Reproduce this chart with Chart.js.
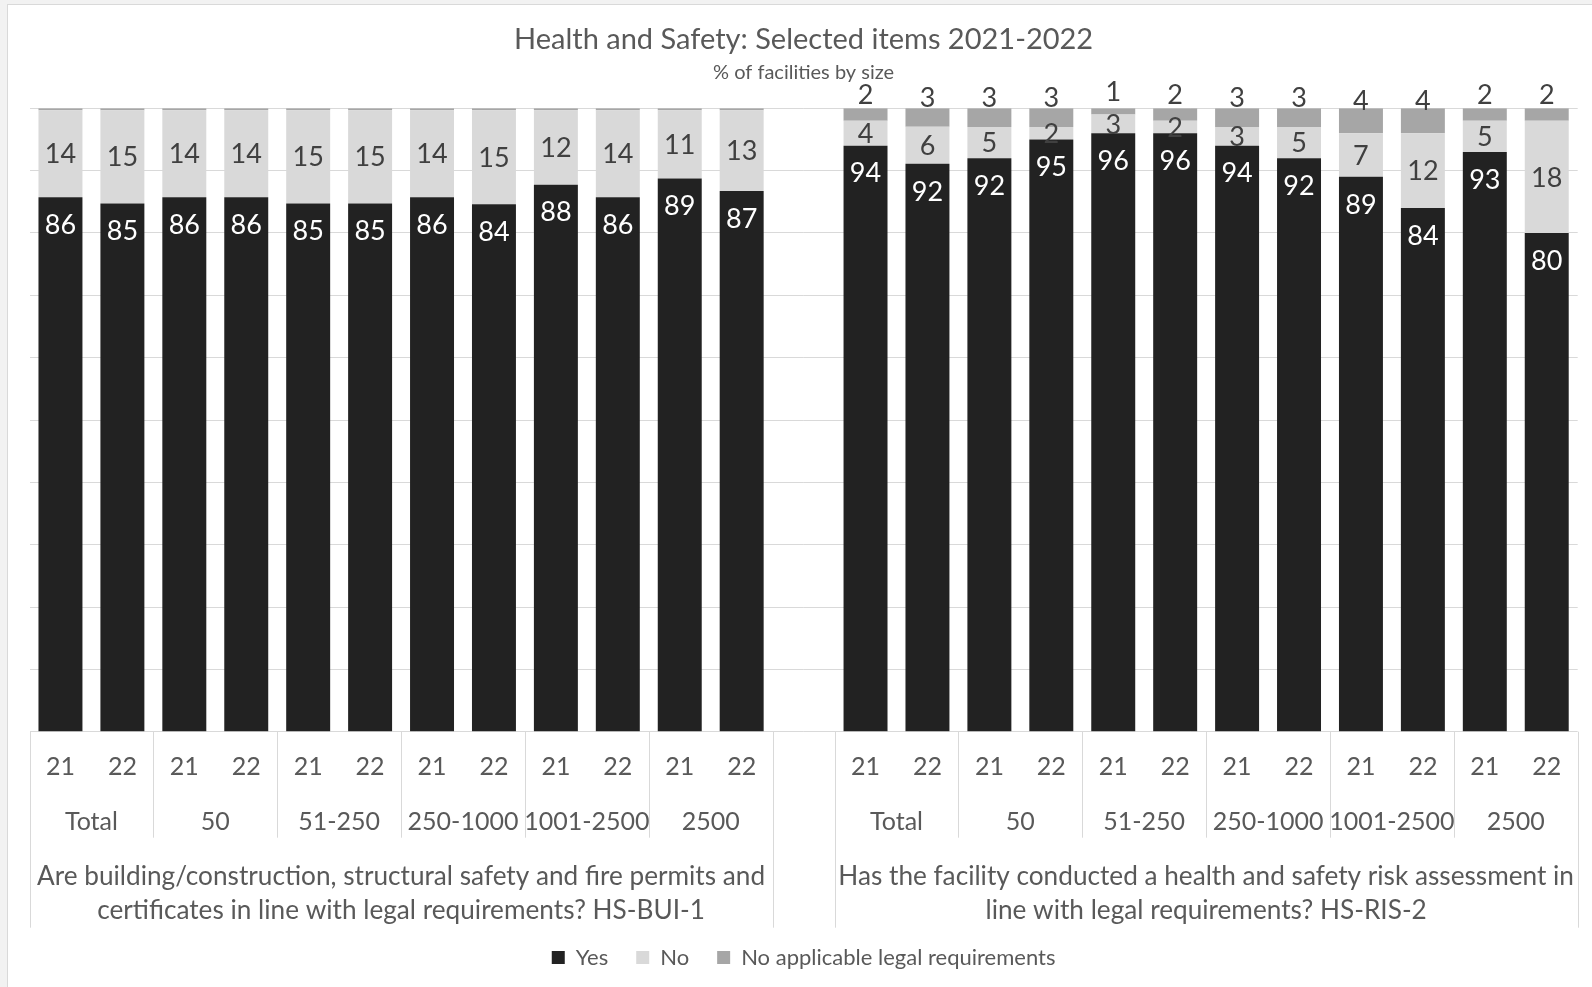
<!DOCTYPE html>
<html>
<head>
<meta charset="utf-8">
<title>Health and Safety: Selected items 2021-2022</title>
<script src="https://cdn.jsdelivr.net/npm/chart.js@4.4.1/dist/chart.umd.min.js"></script>
<style>
  html, body { margin: 0; padding: 0; background: #f2f2f2; overflow: hidden; }
  .frame { position: absolute; left: 7px; top: 4px; width: 1584px; height: 982px; background: #fff;
           border-left: 1px solid #d9d9d9; border-top: 1px solid #d9d9d9; }
</style>
</head>
<body>
<div class="frame">
  <canvas id="cntHS_Chart"></canvas>
</div>
<script>
  // categories
  const years = ['21', '22'];
  const sizes = ['Total', '50', '51-250', '250-1000', '1001-2500', '2500'];
  const questions = [
    ['Are building/construction, structural safety and fire permits and', 'certificates in line with legal requirements? HS-BUI-1'],
    ['Has the facility conducted a health and safety risk assessment in', 'line with legal requirements? HS-RIS-2']
  ];
  const seriesNames = ['Yes', 'No', 'No applicable legal requirements'];

  // HS-BUI-1 (21,22 per size)
  const yesBUI = [86, 85, 86, 86, 85, 85, 86, 84, 88, 86, 89, 87];
  const noBUI  = [14, 15, 14, 14, 15, 15, 14, 15, 12, 14, 11, 13];
  const naBUI  = [0.3, 0.3, 0.3, 0.3, 0.3, 0.3, 0.3, 0.3, 0.3, 0.3, 0.3, 0.3];

  // HS-RIS-2
  const yesRIS = [94, 92, 92, 95, 96, 96, 94, 92, 89, 84, 93, 80];
  const noRIS  = [4, 6, 5, 2, 3, 2, 3, 5, 7, 12, 5, 18];
  const naRIS  = [2, 3, 3, 3, 1, 2, 3, 3, 4, 4, 2, 2];

  const colors = ['#222222', '#d9d9d9', '#a6a6a6'];
  const textGrey = '#595959';

  // one empty category between the two questions
  const rawSeries = [
    yesBUI.concat([null], yesRIS),
    noBUI.concat([null], noRIS),
    naBUI.concat([null], naRIS)
  ];

  const labels = [];
  questions.forEach((q, qi) => {
    sizes.forEach(s => years.forEach(y => labels.push(s + ' ' + y)));
    if (qi === 0) labels.push('');
  });

  // 100% stacked: share of each bar's total
  const totals = rawSeries[0].map((v, i) => v === null ? null : v + rawSeries[1][i] + rawSeries[2][i]);
  const toShare = arr => arr.map((v, i) => v === null ? null : v / totals[i] * 100);

  const valueLabels = {
    id: 'valueLabels',
    afterDatasetsDraw(chart) {
      const ctx = chart.ctx;
      ctx.save();
      ctx.font = '27px Lato';
      ctx.textAlign = 'center';
      ctx.textBaseline = 'middle';
      rawSeries.forEach((vals, di) => {
        chart.getDatasetMeta(di).data.forEach((bar, i) => {
          const v = vals[i];
          if (v === null || v < 0.5) return;
          const p = bar.getProps(['x', 'y', 'base'], true);
          let y;
          if (di === 0) y = p.y + 28;
          else if (di === 1) y = (p.y + p.base) / 2 + 1;
          else y = (p.y + p.base) / 2 - 19;
          ctx.fillStyle = di === 0 ? '#ffffff' : '#404040';
          ctx.fillText(String(v), p.x, y);
        });
      });
      ctx.restore();
    }
  };

  const groupAxis = {
    id: 'groupAxis',
    afterDraw(chart) {
      const ctx = chart.ctx, x = chart.scales.x, bottom = chart.chartArea.bottom;
      const half = (x.getPixelForValue(1) - x.getPixelForValue(0)) / 2;
      const vline = (px, len) => {
        const xx = Math.round(px) + 0.5;
        ctx.beginPath(); ctx.moveTo(xx, bottom); ctx.lineTo(xx, bottom + len); ctx.stroke();
      };
      ctx.save();
      ctx.strokeStyle = '#d9d9d9';
      ctx.lineWidth = 1;
      ctx.fillStyle = textGrey;
      ctx.textAlign = 'center';
      ctx.textBaseline = 'middle';
      questions.forEach((q, qi) => {
        const start = qi * (sizes.length * years.length + 1);
        const left = x.getPixelForValue(start) - half;
        const right = x.getPixelForValue(start + sizes.length * years.length - 1) + half;
        vline(left, 196);
        vline(right, 196);
        sizes.forEach((s, si) => {
          const i0 = start + si * years.length;
          if (si > 0) vline(x.getPixelForValue(i0) - half, 106);
          ctx.font = '25px Lato';
          years.forEach((yr, yi) => ctx.fillText(yr, x.getPixelForValue(i0 + yi), bottom + 35));
          ctx.fillText(s, (x.getPixelForValue(i0) + x.getPixelForValue(i0 + 1)) / 2, bottom + 90);
        });
        ctx.font = '26.2px Lato';
        q.forEach((ln, li) => ctx.fillText(ln, (left + right) / 2, bottom + 145 + li * 33.5));
      });
      ctx.restore();
    }
  };

  Chart.defaults.font.family = 'Lato';

  const config = {
    type: 'bar',
    data: {
      labels: labels,
      datasets: rawSeries.map((vals, di) => ({
        label: seriesNames[di],
        data: toShare(vals),
        backgroundColor: colors[di],
        borderWidth: 0,
        barPercentage: 0.71,
        categoryPercentage: 1
      }))
    },
    options: {
      responsive: true,
      maintainAspectRatio: false,
      animation: false,
      layout: { padding: { left: 21.5, right: 14.3, top: 0, bottom: 8.5 } },
      scales: {
        x: {
          stacked: true,
          grid: { display: false },
          border: { display: false },
          ticks: { display: false },
          afterFit: s => { s.height = 186.8; }
        },
        y: {
          stacked: true,
          min: 0,
          max: 100,
          ticks: { display: false, stepSize: 10 },
          grid: { color: '#d9d9d9', drawTicks: false },
          border: { display: false },
          afterFit: s => { s.width = 0; }
        }
      },
      plugins: {
        title: {
          display: true,
          text: 'Health and Safety: Selected items 2021-2022',
          color: textGrey,
          font: { family: 'Lato', size: 29, weight: 'normal' },
          padding: { top: 17.6, bottom: 0 }
        },
        subtitle: {
          display: true,
          text: '% of facilities by size',
          color: textGrey,
          font: { family: 'Lato', size: 20 },
          padding: { top: 3.6, bottom: 23.3 }
        },
        legend: {
          position: 'bottom',
          labels: {
            boxWidth: 13,
            boxHeight: 13,
            padding: 28,
            color: textGrey,
            font: { family: 'Lato', size: 22 }
          }
        },
        tooltip: { enabled: false }
      }
    },
    plugins: [valueLabels, groupAxis]
  };

  const ctx = document.getElementById('cntHS_Chart').getContext('2d');
  window.cntHS_Grafica = new Chart(ctx, config);
</script>
</body>
</html>
